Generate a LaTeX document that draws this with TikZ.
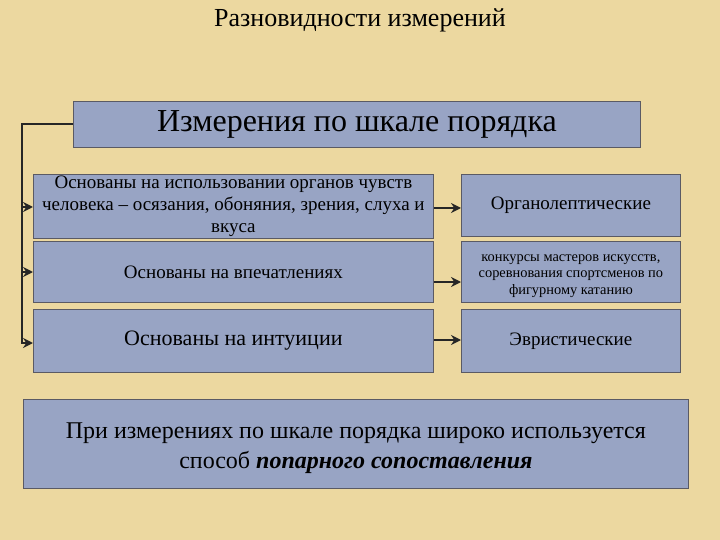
\documentclass[tikz,border=0pt]{standalone}
\usepackage{fontspec}
\setmainfont{Liberation Serif}
\usetikzlibrary{arrows.meta}
\definecolor{bg}{RGB}{236,216,160}
\definecolor{boxfill}{RGB}{152,164,196}
\definecolor{boxline}{RGB}{90,90,100}
\tikzset{
  box/.style={draw=boxline, line width=0.8pt, fill=boxfill, inner sep=0pt, anchor=north west, align=center, text=black},
  txt/.style={align=center, text=black, inner sep=0pt},
  conn/.style={line width=2.8pt, draw=black!85},
  arr/.style={conn, -{Stealth[length=10pt,width=10pt]}}
}
\begin{document}
\begin{tikzpicture}[x=1pt,y=-1pt]
\fill[bg] (0,0) rectangle (720,540);
\useasboundingbox (0,0) rectangle (720,540);
\node[font=\fontsize{26}{29}\selectfont] (title) at (360,20) {Разновидности измерений};
\node[box, minimum width=567pt, minimum height=46pt, font=\fontsize{32}{36}\selectfont] (top) at (73,101) {Измерения по шкале порядка};
\node[box, minimum width=400pt, minimum height=64pt, font=\fontsize{19}{22}\selectfont] (l1) at (33,174) {Основаны на использовании органов чувств\\ человека – осязания, обоняния, зрения, слуха и\\ вкуса};
\node[box, minimum width=400pt, minimum height=61pt, font=\fontsize{19}{22}\selectfont] (l2) at (33,241) {Основаны на впечатлениях};
\node[box, minimum width=400pt, minimum height=63pt, font=\fontsize{22}{25}\selectfont] (l3) at (33,309) {Основаны на интуиции};
\node[box, minimum width=219pt, minimum height=62pt, font=\fontsize{19}{22}\selectfont] (r1) at (461,174) {Органолептические};
\node[box, minimum width=219pt, minimum height=61pt] (r2) at (461,241) {};
\node[txt, font=\fontsize{14.4}{16.5}\selectfont] (r2t) at ([yshift=-4pt]r2.center) {конкурсы мастеров искусств,\\ соревнования спортсменов по\\ фигурному катанию};
\node[box, minimum width=219pt, minimum height=63pt, font=\fontsize{19}{22}\selectfont] (r3) at (461,309) {Эвристические};
\node[box, minimum width=665pt, minimum height=89pt] (bot) at (23,399) {};
\node[txt, font=\fontsize{24}{30}\selectfont] (bott) at ([yshift=-4pt]bot.center) {При измерениях по шкале порядка широко используется\\ способ \textbf{\textit{попарного сопоставления}}};
\coordinate (c0) at (22,124);
\draw[conn] (top.west |- c0) -- (c0) -- (22,344);
\draw[arr] (22,207) -- (l1.west |- 0,207);
\draw[arr] (22,272) -- (l2.west |- 0,272);
\draw[arr] (22,343) -- (l3.west |- 0,343);
\draw[arr] (l1.east |- 0,208) -- (r1.west |- 0,208);
\draw[arr] (l2.east |- 0,282) -- (r2.west |- 0,282);
\draw[arr] (l3.east |- 0,340) -- (r3.west |- 0,340);
\end{tikzpicture}
\end{document}
